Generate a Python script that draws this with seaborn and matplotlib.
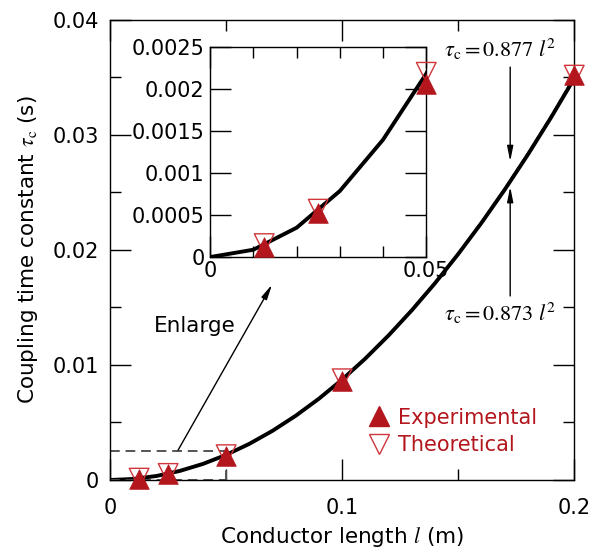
import matplotlib
matplotlib.use("Agg")
import matplotlib.pyplot as plt
import seaborn as sns
from matplotlib.ticker import MultipleLocator
from matplotlib.lines import Line2D

length = [0.0125, 0.025, 0.05, 0.1, 0.2]
tau_exp = [0.00012, 0.00052, 0.00206, 0.0086, 0.0352]
tau_theo = [0.00016, 0.00057, 0.0022, 0.0088, 0.0352]

# fitted curves, sampled every 0.01 m
fit_x = [0.0, 0.01, 0.02, 0.03, 0.04, 0.05, 0.06, 0.07, 0.08, 0.09, 0.1,
         0.11, 0.12, 0.13, 0.14, 0.15, 0.16, 0.17, 0.18, 0.19, 0.2]
fit_877 = [0.0, 0.0000877, 0.000351, 0.000789, 0.001403, 0.002193, 0.003157,
           0.004297, 0.005613, 0.007104, 0.00877, 0.010612, 0.012629, 0.014821,
           0.017189, 0.019733, 0.022451, 0.025345, 0.028415, 0.03166, 0.03508]
fit_873 = [0.0, 0.0000873, 0.000349, 0.000786, 0.001397, 0.002183, 0.003143,
           0.004278, 0.005587, 0.007071, 0.00873, 0.010563, 0.012571, 0.014754,
           0.017111, 0.019643, 0.022349, 0.02523, 0.028286, 0.031516, 0.03492]

# enlarged region
zoom_x = [0.0, 0.05]
zoom_y = [0.0, 0.0025]

red = "#b3161d"
red_open = "#d0363b"

sns.set_style("ticks")
plt.rcParams["font.family"] = ["DejaVu Sans"]
plt.rcParams["mathtext.fontset"] = "stix"
plt.rcParams["text.color"] = "black"
plt.rcParams["axes.labelcolor"] = "black"
plt.rcParams["xtick.color"] = "black"
plt.rcParams["ytick.color"] = "black"

fig = plt.figure(figsize=(5.92, 5.54), dpi=100)
ax = fig.add_axes([0.186, 0.1336, 0.784, 0.8304])

def draw_data(a):
    sns.lineplot(x=fit_x, y=fit_873, ax=a, color="black", linewidth=2.8)
    sns.lineplot(x=fit_x, y=fit_877, ax=a, color="black", linewidth=1.2, linestyle="--")
    sns.scatterplot(x=length, y=tau_theo, ax=a, marker="v", s=200,
                    facecolor="none", edgecolor=red_open, linewidth=1.0,
                    clip_on=False, zorder=5)
    sns.scatterplot(x=length, y=tau_exp, ax=a, marker="^", s=200,
                    color=red, edgecolor=red, linewidth=0.5,
                    clip_on=False, zorder=6)

draw_data(ax)

# dashed box around the enlarged region
box = dict(ls="--", color="#555555", lw=1.4, dashes=(5, 3))
ax.plot([zoom_x[0], zoom_x[1]], [zoom_y[1], zoom_y[1]], **box)
ax.plot([zoom_x[0], zoom_x[1]], [zoom_y[0], zoom_y[0]], **box)
ax.plot([zoom_x[1], zoom_x[1]], [zoom_y[0], zoom_y[1]], **box)

ax.set_xlim(0, 0.2)
ax.set_ylim(0, 0.04)
ax.set_xticks([0, 0.1, 0.2])
ax.set_xticklabels(["0", "0.1", "0.2"])
ax.xaxis.set_minor_locator(MultipleLocator(0.05))
ax.set_yticks([0, 0.01, 0.02, 0.03, 0.04])
ax.set_yticklabels(["0", "0.01", "0.02", "0.03", "0.04"])
ax.yaxis.set_minor_locator(MultipleLocator(0.005))
ax.tick_params(which="both", direction="in", top=True, right=True, labelsize=15, width=1,
               colors="black")
ax.tick_params(axis="x", pad=13)
ax.tick_params(axis="y", pad=8)
ax.tick_params(which="major", length=15)
ax.tick_params(which="minor", length=8)
for sp in ax.spines.values():
    sp.set_linewidth(1)
    sp.set_color("black")

ax.set_xlabel(r"Conductor length $\mathit{l}$ (m)", fontsize=15.5, labelpad=5)
ax.set_ylabel(r"Coupling time constant $\tau_{\rm c}$ (s)", fontsize=15.5, labelpad=9)

# legend
handles = [Line2D([], [], marker="^", ls="none", markersize=14, color=red, markeredgecolor=red),
           Line2D([], [], marker="v", ls="none", markersize=14, markerfacecolor="none", markeredgecolor=red_open)]
ax.legend(handles, ["Experimental", "Theoretical"], loc="upper left", bbox_to_anchor=(0.535, 0.18),
          frameon=False, fontsize=15, labelcolor=red, handlelength=1.0, handletextpad=0.4,
          labelspacing=0.35, borderpad=0)

# annotations
arrow = dict(arrowstyle="-|>,head_width=0.18,head_length=0.9", color="black", lw=1, shrinkA=0, shrinkB=0)
ax.text(0.168, 0.0374, r"$\tau_{\rm c} = 0.877\ l^2$", fontsize=16, ha="center", va="center")
ax.annotate("", xy=(0.1724, 0.0277), xytext=(0.1724, 0.0359), arrowprops=arrow)
ax.text(0.168, 0.0145, r"$\tau_{\rm c} = 0.873\ l^2$", fontsize=16, ha="center", va="center")
ax.annotate("", xy=(0.1724, 0.0255), xytext=(0.1724, 0.0160), arrowprops=arrow)
ax.text(0.0366, 0.0134, "Enlarge", fontsize=15.5, ha="center", va="center")
ax.annotate("", xy=(0.0698, 0.0170), xytext=(0.0293, 0.0026), arrowprops=arrow)

# inset
ins = fig.add_axes([0.355, 0.536, 0.365, 0.379])
draw_data(ins)
ins.set_xlim(0, 0.05)
ins.set_ylim(0, 0.0025)
ins.set_xticks([0, 0.05])
ins.set_xticklabels(["0", "0.05"])
ins.xaxis.set_minor_locator(MultipleLocator(0.01))
ins.set_yticks([0, 0.0005, 0.001, 0.0015, 0.002, 0.0025])
ins.set_yticklabels(["0", "0.0005", "0.001", "0.0015", "0.002", "0.0025"])
ins.tick_params(which="both", direction="in", top=True, right=True, labelsize=15, width=1,
                colors="black")
ins.tick_params(axis="x", pad=3)
ins.tick_params(axis="y", pad=4)
ins.tick_params(which="major", length=15)
ins.tick_params(which="minor", length=8)
ins.set_xlabel("")
ins.set_ylabel("")
for sp in ins.spines.values():
    sp.set_linewidth(1)
    sp.set_color("black")

fig.savefig("out.png", dpi=100)
